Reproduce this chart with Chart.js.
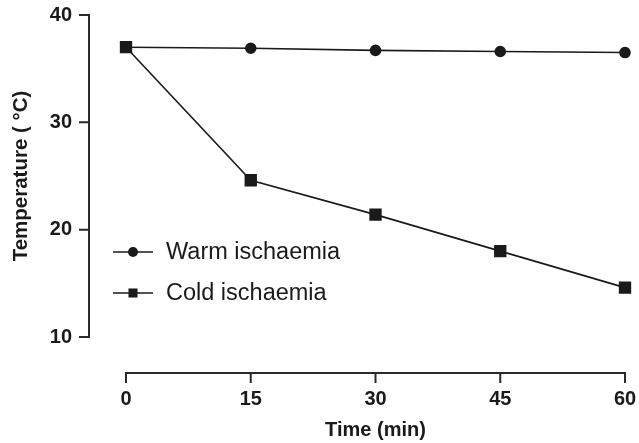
<!DOCTYPE html>
<html lang="en">
<head>
    <meta charset="UTF-8">
    <title>Temperature during ischaemia</title>
    <script src="https://cdn.jsdelivr.net/npm/chart.js"></script>
    <style>
        body { margin: 0; background: #fff; }
        #wrap { width: 639px; height: 443px; }
    </style>
</head>
<body>
    <div id="wrap"><canvas id="tempChart" width="639" height="443"></canvas></div>

    <script>
        // time points (min) and mean temperature (°C)
        const times = [0, 15, 30, 45, 60];
        const warmTemps = [37.0, 36.9, 36.7, 36.6, 36.5];
        const coldTemps = [37.0, 24.6, 21.4, 18.0, 14.6];
        const xTicks = [0, 15, 30, 45, 60];
        const yTicks = [10, 20, 30, 40];
        const seriesNames = ["Warm ischaemia", "Cold ischaemia"];

        const FONT = "'Liberation Sans', Arial, Helvetica, sans-serif";
        const INK = "#1a1a1a";

        function toPoints(vals) {
            return times.map((t, i) => ({ x: t, y: vals[i] }));
        }

        // offset axes (Prism style): lines drawn away from the plot area
        const offsetAxes = {
            id: 'offsetAxes',
            afterDraw(chart) {
                const { ctx, chartArea } = chart;
                const xs = chart.scales.x, ys = chart.scales.y;
                const ax = chartArea.left - 37;
                const ay = chartArea.bottom + 36;
                ctx.save();
                ctx.strokeStyle = "#2a2a2a";
                ctx.lineWidth = 2;
                ctx.lineCap = 'square';
                ctx.beginPath();
                ctx.moveTo(ax, ys.getPixelForValue(yTicks[0]));
                ctx.lineTo(ax, ys.getPixelForValue(yTicks[yTicks.length - 1]));
                yTicks.forEach(v => {
                    const py = ys.getPixelForValue(v);
                    ctx.moveTo(ax - 9, py);
                    ctx.lineTo(ax, py);
                });
                ctx.moveTo(xs.getPixelForValue(xTicks[0]), ay);
                ctx.lineTo(xs.getPixelForValue(xTicks[xTicks.length - 1]), ay);
                xTicks.forEach(v => {
                    const px = xs.getPixelForValue(v);
                    ctx.moveTo(px, ay);
                    ctx.lineTo(px, ay + 9);
                });
                ctx.stroke();
                ctx.restore();
            }
        };

        // legend inside the plot, lower left
        const innerLegend = {
            id: 'innerLegend',
            afterDraw(chart) {
                const { ctx } = chart;
                const rows = [252, 293];
                ctx.save();
                chart.data.datasets.forEach((ds, i) => {
                    const y = rows[i];
                    ctx.strokeStyle = INK;
                    ctx.fillStyle = INK;
                    ctx.lineWidth = 1.6;
                    ctx.beginPath();
                    ctx.moveTo(113, y);
                    ctx.lineTo(153, y);
                    ctx.stroke();
                    Chart.helpers.drawPoint(ctx, {
                        pointStyle: ds.pointStyle,
                        radius: ds.pointStyle === 'rect' ? 6.4 : 5,
                        rotation: 0
                    }, 133, y);
                    ctx.font = "23.5px " + FONT;
                    ctx.textBaseline = 'middle';
                    ctx.textAlign = 'left';
                    ctx.fillText(ds.label, 166, y + 1);
                });
                ctx.restore();
            }
        };

        // invisible tick marks only reserve the gap between plot and labels
        const hiddenGrid = (len) => ({
            display: true,
            drawOnChartArea: false,
            drawTicks: true,
            tickLength: len,
            color: 'rgba(0,0,0,0)'
        });

        new Chart(document.getElementById('tempChart'), {
            type: 'line',
            data: {
                datasets: [
                    {
                        label: seriesNames[0],
                        data: toPoints(warmTemps),
                        borderColor: INK,
                        backgroundColor: INK,
                        borderWidth: 1.6,
                        pointStyle: 'circle',
                        pointRadius: 5,
                        clip: false,
                        order: 2
                    },
                    {
                        label: seriesNames[1],
                        data: toPoints(coldTemps),
                        borderColor: INK,
                        backgroundColor: INK,
                        borderWidth: 1.6,
                        pointStyle: 'rect',
                        pointRadius: 7.6,
                        clip: false,
                        order: 1
                    }
                ]
            },
            options: {
                responsive: false,
                animation: false,
                layout: { padding: { top: 15, right: 14, left: 0, bottom: 0 } },
                plugins: {
                    legend: { display: false },
                    tooltip: { enabled: false }
                },
                scales: {
                    x: {
                        type: 'linear',
                        min: 0,
                        max: 60,
                        afterFit(s) { s.height = 106; },
                        afterBuildTicks(s) { s.ticks = xTicks.map(v => ({ value: v })); },
                        grid: hiddenGrid(50),
                        border: { display: false },
                        ticks: {
                            padding: 0,
                            color: INK,
                            font: { family: FONT, size: 20, weight: 'bold' }
                        },
                        title: {
                            display: true,
                            text: 'Time (min)',
                            color: INK,
                            padding: { top: 0, bottom: 1 },
                            font: { family: FONT, size: 20, weight: 'bold' }
                        }
                    },
                    y: {
                        min: 10,
                        max: 40,
                        afterFit(s) { s.width = 126; },
                        afterBuildTicks(s) { s.ticks = yTicks.map(v => ({ value: v })); },
                        grid: hiddenGrid(54),
                        border: { display: false },
                        ticks: {
                            padding: 0,
                            color: INK,
                            font: { family: FONT, size: 20, weight: 'bold' }
                        },
                        title: {
                            display: true,
                            text: 'Temperature ( °C)',
                            color: INK,
                            padding: { top: 9, bottom: 0 },
                            font: { family: FONT, size: 20.5, weight: 'bold' }
                        }
                    }
                }
            },
            plugins: [offsetAxes, innerLegend]
        });
    </script>
</body>
</html>
